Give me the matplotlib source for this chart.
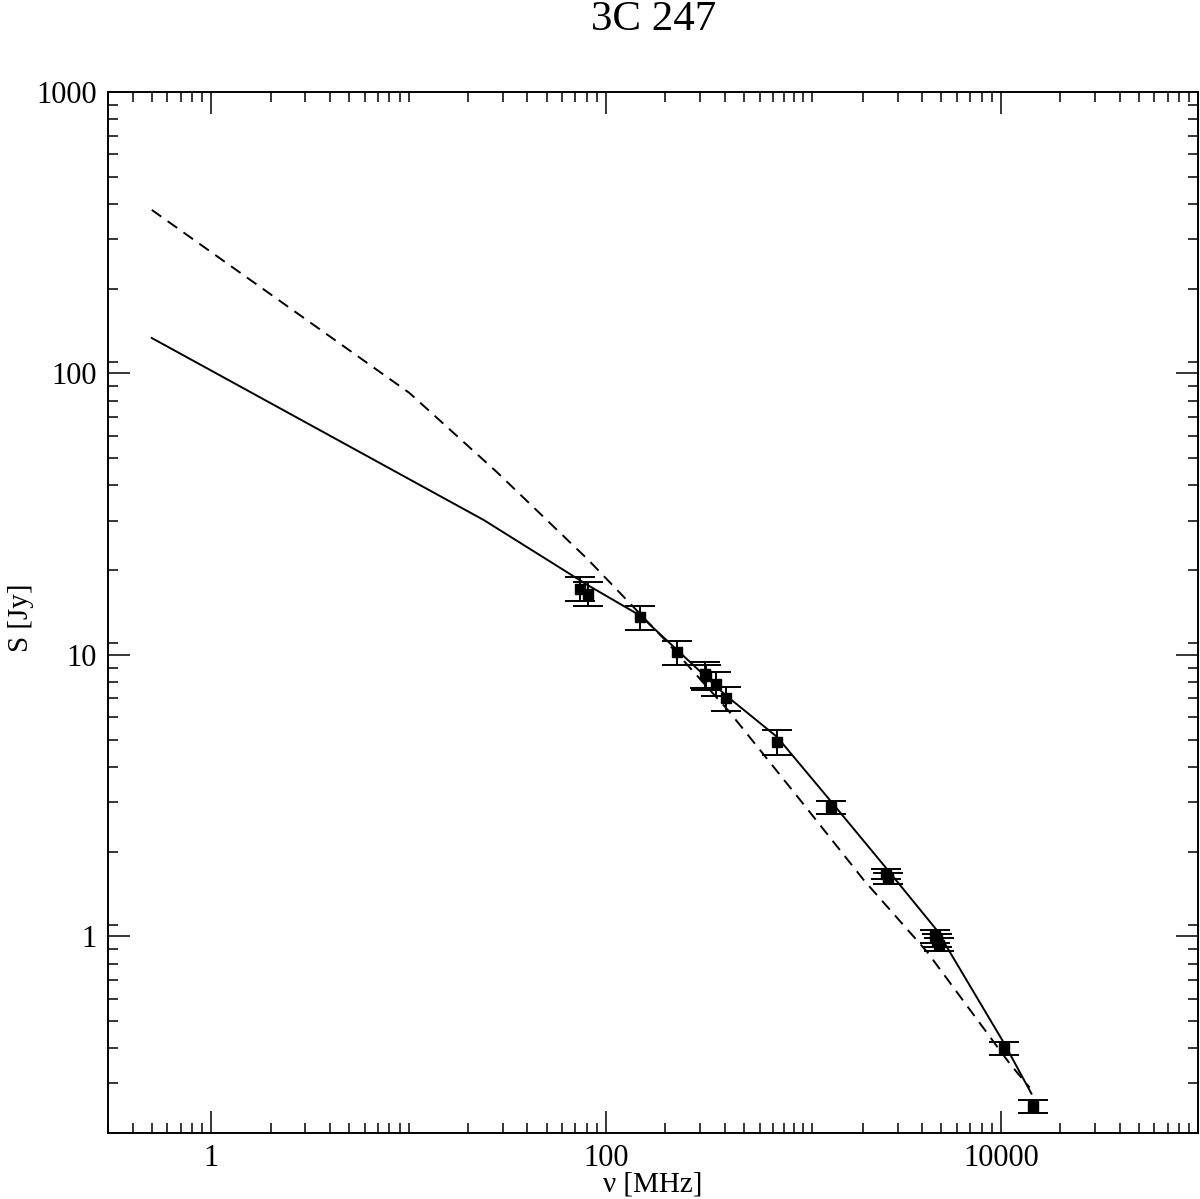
import numpy as np
import matplotlib
matplotlib.use("Agg")
import matplotlib.pyplot as plt
from matplotlib.ticker import FixedLocator, NullFormatter, FixedFormatter

# measured flux densities of 3C 247
freq = [73.5, 81.0, 148.7, 229.5, 318.0, 322.0, 359.7, 403.6, 735.6,
        1377.0, 2630.0, 2680.0, 4650.0, 4750.0, 4850.0, 10390.0, 14500.0]
flux = [17.2, 16.5, 13.6, 10.2, 8.55, 8.38, 7.91, 7.0, 4.91,
        2.88, 1.67, 1.61, 1.00, 0.97, 0.935, 0.40, 0.249]
err = [1.7, 1.6, 1.35, 1.0, 0.9, 0.85, 0.78, 0.7, 0.49,
       0.15, 0.07, 0.07, 0.05, 0.05, 0.05, 0.02, 0.0125]

# model curves (solid / dashed)
fit_x = [0.5, 24.1, 80.7, 148.7, 229.5, 403.6, 735.6, 1377.0, 2630.0,
         4750.0, 10390.0, 14300.0]
fit_y = [133.6, 30.1, 17.7, 13.8, 10.4, 7.19, 5.11, 3.02, 1.745,
         1.05, 0.417, 0.276]
alt_x = [0.5, 10.1, 28.0, 81.6, 199.0, 415.0, 935.0, 2029.0, 4236.0,
         11100.0, 14000.0]
alt_y = [381.0, 85.2, 44.6, 21.7, 11.3, 6.36, 3.13, 1.58, 0.88,
         0.353, 0.29]

plt.rcParams['font.family'] = ['Liberation Serif', 'DejaVu Serif']

fig = plt.figure(figsize=(12, 11.99), dpi=100)
ax = fig.add_axes([0.09, 0.055, 0.9085, 0.8683])

ax.plot(fit_x, fit_y, color='black', lw=1.4)
ax.plot(alt_x, alt_y, color='black', lw=1.4, linestyle=(0, (6, 4)))
ax.errorbar(freq, flux, yerr=err, fmt='s', color='black', ms=7,
            ecolor='black', elinewidth=1.4, capsize=11, capthick=1.4)

ax.set_xscale('log')
ax.set_yscale('log')
ax.set_xlim(0.3, 1e5)
ax.set_ylim(0.2, 1000)

decs = [10.0 ** k for k in range(-1, 6)]
xmin = [m * d for d in decs for m in range(2, 10)] + [10, 1000, 1100]
ymin = [m * d for d in decs for m in [1.1] + list(range(2, 10))]
ax.xaxis.set_major_locator(FixedLocator([1, 100, 10000]))
ax.xaxis.set_major_formatter(FixedFormatter(['1', '100', '10000']))
ax.xaxis.set_minor_locator(FixedLocator(xmin))
ax.xaxis.set_minor_formatter(NullFormatter())
ax.yaxis.set_major_locator(FixedLocator([1, 10, 100, 1000]))
ax.yaxis.set_major_formatter(FixedFormatter(['1', '10', '100', '1000']))
ax.yaxis.set_minor_locator(FixedLocator(ymin))
ax.yaxis.set_minor_formatter(NullFormatter())

ax.tick_params(which='both', direction='in', top=True, right=True, width=1.1)
ax.tick_params(which='major', length=16, labelsize=22, pad=8)
ax.tick_params(which='minor', length=7.5)
for s in ax.spines.values():
    s.set_linewidth(1.4)

ax.set_xlabel('ν [MHz]', fontsize=21)
ax.set_ylabel('S [Jy]', fontsize=21)
ax.xaxis.set_label_coords(0.5, -0.037)
ax.yaxis.set_label_coords(-0.068, 0.495)
fig.text(0.5445, 1 - 20 / 1199, '3C 247', fontsize=31, ha='center', va='center')

fig.savefig('out.png', dpi=100)
